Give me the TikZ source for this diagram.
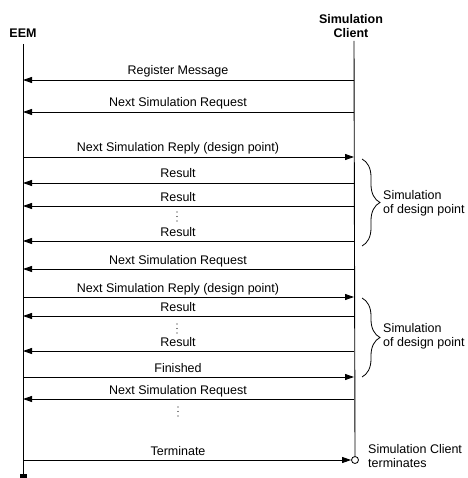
\documentclass[tikz,border=0pt]{standalone}
\usepackage{fontspec}
\setmainfont{Liberation Sans}
\usetikzlibrary{arrows.meta,decorations.pathreplacing}
\begin{document}
\begin{tikzpicture}[x=1pt,y=-1pt,
  every node/.style={font=\fontsize{12.5}{14}\selectfont, inner sep=0pt},
  life/.style={line width=0.9pt},
  msg/.style={line width=0.9pt, -{Triangle[length=9pt,width=6pt]}},
  lbl/.style={anchor=base},
  hdr/.style={font=\fontsize{12.5}{14}\selectfont\bfseries, align=center},
  brc/.style={decorate, decoration={brace, amplitude=18pt}, line width=0.8pt},
  note/.style={align=left, anchor=west},
  dot/.style={fill, circle, minimum size=1.4pt, inner sep=0pt}]
\useasboundingbox (0,0) rectangle (467,478);

% headers
\node[hdr] (eem) at (23,33) {EEM};
\node[hdr] (sc) at (351,26) {Simulation\\Client};

% lifelines
\coordinate (eemtop) at (23,44);
\coordinate (eembot) at (23,475);
\coordinate (sctop) at (354,41);
\node[circle, draw, line width=0.8pt, fill=white, minimum size=7pt, inner sep=0pt] (term) at (355,460) {};
\draw[life] (eemtop) -- (eembot);
\fill (19.5,474) rectangle (26.5,478);
\draw[life] (sctop) -- (term.north);

% messages
\coordinate (l1) at (23,80);  \coordinate (r1) at (354,80);
\draw[msg] (r1) -- (l1);
\node[lbl] (t1) at (178,75) {Register Message};

\coordinate (l2) at (23,112); \coordinate (r2) at (354,112);
\draw[msg] (r2) -- (l2);
\node[lbl] (t2) at (178,107) {Next Simulation Request};

\coordinate (l3) at (23,157); \coordinate (r3) at (354,157);
\draw[msg] (l3) -- (r3);
\node[lbl] (t3) at (178,152) {Next Simulation Reply (design point)};

\coordinate (l4) at (23,183); \coordinate (r4) at (354,183);
\draw[msg] (r4) -- (l4);
\node[lbl] (t4) at (178,178) {Result};

\coordinate (l5) at (23,206); \coordinate (r5) at (354,206);
\draw[msg] (r5) -- (l5);
\node[lbl] (t5) at (178,201) {Result};

\node[dot] (d1a) at (177,212) {};
\node[dot] (d1b) at (177,216.5) {};
\node[dot] (d1c) at (177,221) {};

\coordinate (l6) at (23,241); \coordinate (r6) at (354,241);
\draw[msg] (r6) -- (l6);
\node[lbl] (t6) at (178,236) {Result};

\coordinate (l7) at (23,269); \coordinate (r7) at (354,269);
\draw[msg] (r7) -- (l7);
\node[lbl] (t7) at (178,264) {Next Simulation Request};

\coordinate (l8) at (23,297); \coordinate (r8) at (354,297);
\draw[msg] (l8) -- (r8);
\node[lbl] (t8) at (178,292) {Next Simulation Reply (design point)};

\coordinate (l9) at (23,316); \coordinate (r9) at (354,316);
\draw[msg] (r9) -- (l9);
\node[lbl] (t9) at (178,311) {Result};

\node[dot] (d2a) at (177,324) {};
\node[dot] (d2b) at (177,328.5) {};
\node[dot] (d2c) at (177,333) {};

\coordinate (l10) at (23,351); \coordinate (r10) at (354,351);
\draw[msg] (r10) -- (l10);
\node[lbl] (t10) at (178,346) {Result};

\coordinate (l11) at (23,377); \coordinate (r11) at (354,377);
\draw[msg] (l11) -- (r11);
\node[lbl] (t11) at (178,372) {Finished};

\coordinate (l12) at (23,399); \coordinate (r12) at (354,399);
\draw[msg] (r12) -- (l12);
\node[lbl] (t12) at (178,394) {Next Simulation Request};

\node[dot] (d3a) at (178,407) {};
\node[dot] (d3b) at (178,411.5) {};
\node[dot] (d3c) at (178,416) {};

\coordinate (l13) at (23,460);
\draw[msg] (l13) -- (term.west);
\node[lbl] (t13) at (178,455) {Terminate};

% braces
\draw[brc] (362,159) -- (362,246);
\node[note] (n1) at (383,203) {Simulation\\of design point};
\draw[brc] (362,298) -- (362,377);
\node[note] (n2) at (383,336) {Simulation\\of design point};

\node[note] (n3) at (368,456) {Simulation Client\\terminates};
\end{tikzpicture}
\end{document}
